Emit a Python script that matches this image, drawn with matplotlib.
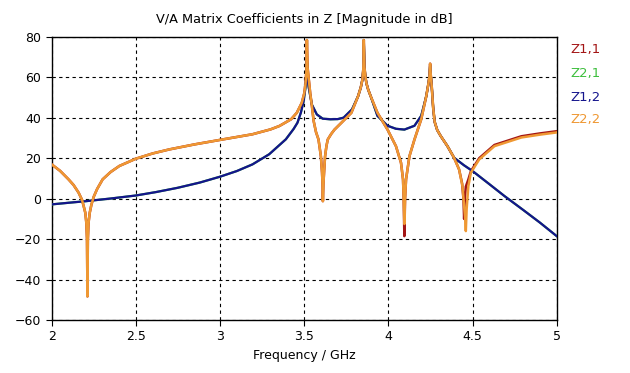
import matplotlib
matplotlib.use("Agg")
import matplotlib.pyplot as plt

# Z2,2 (orange) - frequency (GHz) and magnitude (dB)
f_z22 = [2.000, 2.050, 2.100, 2.130, 2.160, 2.180, 2.190, 2.200, 2.206, 2.2100, 2.2125, 2.2150,
         2.219, 2.226, 2.236, 2.250, 2.270, 2.303, 2.350, 2.402, 2.500, 2.600, 2.699, 2.850,
         3.000, 3.193, 3.300, 3.353, 3.422, 3.456, 3.486, 3.500, 3.508, 3.513, 3.516,
         3.520, 3.526, 3.536, 3.546, 3.556, 3.570, 3.585, 3.599, 3.606, 3.609, 3.611, 3.614,
         3.618, 3.624, 3.632, 3.640, 3.660, 3.680, 3.720, 3.780, 3.820, 3.836, 3.846, 3.851, 3.854,
         3.858, 3.864, 3.870, 3.880, 3.895, 3.935, 3.995, 4.045, 4.075, 4.087, 4.091, 4.095,
         4.099, 4.105, 4.125, 4.155, 4.195, 4.225, 4.238, 4.244, 4.248,
         4.252, 4.258, 4.266, 4.275, 4.290, 4.311, 4.351, 4.390, 4.420, 4.440, 4.450, 4.456, 4.460,
         4.465, 4.475, 4.490, 4.540, 4.630, 4.790, 4.900, 5.000]
z22 = [17.0, 13.8, 9.6, 6.8, 3.0, -0.5, -3.6, -7.0, -12.0, -20.0, -48.3, -20.0,
       -12.0, -7.0, -3.0, 1.0, 4.8, 9.6, 13.2, 16.2, 19.8, 22.4, 24.4, 26.9,
       29.1, 31.9, 34.3, 36.0, 39.3, 42.5, 47.5, 52.0, 57.0, 63.0, 78.5,
       65.0, 60.0, 52.0, 45.8, 38.5, 33.0, 29.3, 21.1, 13.0, 7.0, -1.2, 7.0,
       13.0, 21.0, 26.0, 29.3, 32.0, 34.2, 37.5, 42.5, 50.7, 55.0, 59.0, 64.0, 78.5,
       65.0, 60.0, 57.0, 54.0, 50.7, 42.5, 34.2, 26.0, 17.8, 9.6, 0.0, -12.5,
       0.0, 9.6, 21.0, 29.3, 39.3, 50.7, 57.0, 60.5, 66.8,
       61.0, 55.0, 45.0, 38.0, 34.0, 31.0, 26.0, 20.3, 14.5, 6.2, -3.7, -9.0, -16.0,
       -5.0, 6.2, 12.9, 19.5, 26.0, 30.3, 31.7, 32.8]

# Z1,1 (dark red) - nearly identical to Z2,2, deeper dip at 4.09 GHz
f_z11 = [2.000, 2.050, 2.100, 2.130, 2.160, 2.180, 2.190, 2.200, 2.206, 2.2100, 2.2125, 2.2150,
         2.219, 2.226, 2.236, 2.250, 2.270, 2.303, 2.350, 2.402, 2.500, 2.600, 2.699, 2.850,
         3.000, 3.193, 3.300, 3.353, 3.422, 3.456, 3.486, 3.500, 3.508, 3.513, 3.516,
         3.520, 3.526, 3.536, 3.546, 3.556, 3.570, 3.585, 3.599, 3.606, 3.609, 3.611, 3.614,
         3.618, 3.624, 3.632, 3.640, 3.660, 3.680, 3.720, 3.780, 3.820, 3.836, 3.846, 3.851, 3.854,
         3.858, 3.864, 3.870, 3.880, 3.895, 3.935, 3.995, 4.045, 4.075, 4.087, 4.091, 4.095,
         4.099, 4.105, 4.125, 4.155, 4.195, 4.225, 4.238, 4.244, 4.248,
         4.252, 4.258, 4.266, 4.275, 4.290, 4.311, 4.351, 4.390, 4.420, 4.438, 4.446, 4.450, 4.454,
         4.460, 4.475, 4.490, 4.540, 4.630, 4.790, 4.900, 5.000]
z11 = [17.0, 13.8, 9.6, 6.8, 3.0, -0.5, -3.6, -7.0, -12.0, -20.0, -48.3, -20.0,
       -12.0, -7.0, -3.0, 1.0, 4.8, 9.6, 13.2, 16.2, 19.8, 22.4, 24.4, 26.9,
       29.1, 31.9, 34.3, 36.0, 39.3, 42.5, 47.5, 52.0, 57.0, 63.0, 78.5,
       65.0, 60.0, 52.0, 45.8, 38.5, 33.0, 29.3, 21.1, 13.0, 7.0, -1.2, 7.0,
       13.0, 21.0, 26.0, 29.3, 32.0, 34.2, 37.5, 42.5, 50.7, 55.0, 59.0, 64.0, 78.5,
       65.0, 60.0, 57.0, 54.0, 50.7, 42.5, 34.2, 26.0, 17.8, 9.6, 0.0, -18.5,
       0.0, 9.6, 21.0, 29.3, 39.3, 50.7, 57.0, 60.5, 66.8,
       61.0, 55.0, 45.0, 38.0, 34.0, 31.0, 26.0, 20.3, 14.5, 7.5, 0.0, -10.0, 0.0,
       6.0, 9.5, 13.6, 20.1, 26.6, 30.9, 32.3, 33.4]

# Z1,2 (navy) and Z2,1 (green, hidden beneath) - transfer impedance
f_z12 = [2.000, 2.100, 2.204, 2.350, 2.500, 2.620, 2.748, 2.880, 3.000, 3.100, 3.193, 3.292,
         3.391, 3.437, 3.460, 3.480, 3.496, 3.506, 3.512, 3.516, 3.520, 3.526, 3.536, 3.546,
         3.575, 3.610, 3.655, 3.700, 3.734, 3.784, 3.820, 3.836, 3.846, 3.851, 3.854, 3.858,
         3.864, 3.870, 3.880, 3.895, 3.935, 3.995, 4.045, 4.095, 4.155, 4.195, 4.225, 4.238,
         4.244, 4.248, 4.252, 4.258, 4.266, 4.275, 4.290, 4.311, 4.351, 4.390, 4.420, 4.450,
         4.500, 4.600, 4.690, 4.800, 4.900, 5.000]
z12 = [-2.8, -2.0, -1.2, 0.1, 1.6, 3.3, 5.4, 8.0, 10.9, 13.7, 17.0, 22.0,
       29.4, 34.5, 37.6, 42.5, 48.0, 54.0, 60.0, 68.0, 60.0, 55.5, 50.8, 46.5,
       41.7, 39.6, 39.3, 39.4, 40.1, 44.2, 50.7, 55.0, 59.0, 64.0, 78.5, 65.0,
       60.0, 57.0, 54.0, 50.7, 41.0, 36.1, 34.6, 34.2, 36.1, 41.0, 50.7, 57.0,
       60.5, 66.0, 61.0, 55.0, 45.0, 38.0, 34.0, 31.0, 26.0, 20.3, 18.4, 16.5,
       13.7, 7.2, 1.3, -5.5, -11.8, -18.5]
f_z21 = f_z12
z21 = z12

x_ticks = [2, 2.5, 3, 3.5, 4, 4.5, 5]
x_tick_labels = ["2", "2.5", "3", "3.5", "4", "4.5", "5"]
y_ticks = [-60, -40, -20, 0, 20, 40, 60, 80]

series_names = ["Z1,1", "Z2,1", "Z1,2", "Z2,2"]
c_red = "#A31515"
c_green = "#3DBE3D"
c_blue = "#14148C"
c_orange = "#EF9833"

plt.rcParams['font.family'] = ['DejaVu Sans']
fig = plt.figure(figsize=(6.3, 3.73), dpi=100)
ax = fig.add_axes([0.082, 0.142, 0.8017, 0.7588])

ax.plot(f_z21, z21, color=c_green, lw=1.6, zorder=3)
ax.plot(f_z11, z11, color=c_red, lw=1.8, zorder=3)
ax.plot(f_z12, z12, color=c_blue, lw=1.6, zorder=4)
ax.plot(f_z22, z22, color=c_orange, lw=1.8, zorder=5)

ax.set_xlim(2, 5)
ax.set_ylim(-60, 80)
ax.set_xticks(x_ticks)
ax.set_xticklabels(x_tick_labels)
ax.set_yticks(y_ticks)
ax.grid(True, color="black", linestyle=(0, (3, 3)), linewidth=0.8)
ax.tick_params(direction="out", length=4, width=0.8, labelsize=9, colors="black")
for s in ax.spines.values():
    s.set_linewidth(1.0)
    s.set_color("black")

ax.set_title("V/A Matrix Coefficients in Z [Magnitude in dB]", fontsize=9.3, pad=10)
ax.set_xlabel("Frequency / GHz", fontsize=9, labelpad=4)

label_colors = [c_red, c_green, c_blue, c_orange]
label_y = [50, 73, 97, 120]
for name, col, yp in zip(series_names, label_colors, label_y):
    fig.text(570 / 630, 1 - yp / 373, name, color=col, fontsize=9.5, va="center", ha="left")

fig.savefig("out.png", dpi=100)
